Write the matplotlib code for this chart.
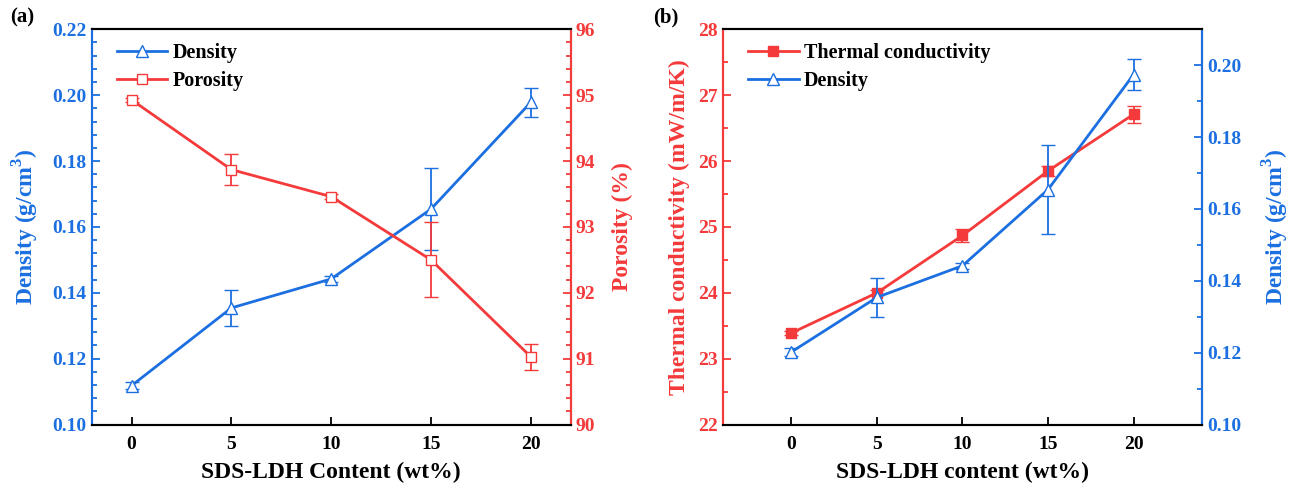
import matplotlib
matplotlib.use("Agg")
import matplotlib.pyplot as plt
from matplotlib.ticker import MultipleLocator, FormatStrFormatter

plt.rcParams['font.family'] = ['Liberation Serif', 'DejaVu Serif']
plt.rcParams['font.weight'] = 'bold'
plt.rcParams['mathtext.fontset'] = 'custom'
plt.rcParams['mathtext.rm'] = 'Liberation Serif:bold'
plt.rcParams['mathtext.bf'] = 'Liberation Serif:bold'

# SDS-LDH loading (wt%)
content = [0, 5, 10, 15, 20]

# Panel (a): density and porosity
density_a = [0.1118, 0.1354, 0.1442, 0.1654, 0.1978]
density_a_err = [0.0010, 0.0054, 0.0008, 0.0125, 0.0043]
porosity = [94.93, 93.87, 93.46, 92.50, 91.03]
porosity_err = [0.03, 0.24, 0.04, 0.57, 0.20]

# Panel (b): thermal conductivity and density
conductivity = [23.39, 24.00, 24.87, 25.85, 26.71]
conductivity_err = [0.03, 0.04, 0.10, 0.08, 0.13]
density_b = [0.1202, 0.1354, 0.1442, 0.1654, 0.1974]
density_b_err = [0.0010, 0.0054, 0.0008, 0.0125, 0.0042]

BLUE = '#1b6fe0'
RED = '#f43a3a'
LW = 2.0
TICK_FS = 14
LABEL_FS = 17
LEGEND_FS = 14.5


def style_axis(ax, which, color, major, minor):
    axis = ax.yaxis
    axis.set_major_locator(MultipleLocator(major))
    axis.set_minor_locator(MultipleLocator(minor))
    ax.tick_params(axis='y', which='both', direction='in', colors=color,
                   labelsize=TICK_FS, width=1.3)
    ax.tick_params(axis='y', which='major', length=6)
    ax.tick_params(axis='y', which='minor', length=3.5)
    ax.spines[which].set_color(color)


def style_x(ax):
    ax.set_xticks(content)
    ax.tick_params(axis='x', which='both', direction='in', labelsize=TICK_FS,
                   length=6, width=1.3, pad=8)
    ax.xaxis.set_minor_locator(plt.NullLocator())
    for s in ax.spines.values():
        s.set_linewidth(1.5)


def add_legend(ax, handles, labels):
    ax.legend(handles, labels, loc='upper left', frameon=False,
              fontsize=LEGEND_FS, handlelength=2.5, handletextpad=0.25,
              labelspacing=0.4, borderaxespad=0.0,
              bbox_to_anchor=(0.036, 0.985))


fig = plt.figure(figsize=(12.89, 4.91), dpi=100)
ax1 = fig.add_axes([0.0711, 0.1354, 0.3716, 0.8049])
ax2 = fig.add_axes([0.5609, 0.1354, 0.3716, 0.8049])

# ---- (a) ----
ax1r = ax1.twinx()
l1 = ax1.errorbar(content, density_a, yerr=density_a_err, color=BLUE, lw=LW,
                  marker='^', ms=8, mfc='white', mec=BLUE, mew=1.0,
                  capsize=5, elinewidth=1.3, capthick=1.3)
l2 = ax1r.errorbar(content, porosity, yerr=porosity_err, color=RED, lw=LW,
                   marker='s', ms=7, mfc='white', mec=RED, mew=1.0,
                   capsize=5, elinewidth=1.3, capthick=1.3)
ax1.set_xlim(-2, 22)
ax1.set_ylim(0.10, 0.22)
ax1r.set_ylim(90, 96)
style_x(ax1)
for s in ax1r.spines.values():
    s.set_linewidth(1.5)
style_axis(ax1, 'left', BLUE, 0.02, 0.004)
style_axis(ax1r, 'right', RED, 1, 0.2)
ax1r.spines['left'].set_color(BLUE)
ax1.yaxis.set_major_formatter(FormatStrFormatter('%.2f'))
ax1.set_ylabel('Density (g/cm$^3$)', color=BLUE, fontsize=LABEL_FS,
               fontweight='bold', labelpad=8)
ax1r.set_ylabel('Porosity (%)', color=RED, fontsize=LABEL_FS,
                fontweight='bold', labelpad=12)
ax1.set_xlabel('SDS-LDH Content (wt%)', fontsize=LABEL_FS, fontweight='bold',
               labelpad=7)
add_legend(ax1, [l1[0], l2[0]], ['Density', 'Porosity'])
fig.text(0.008, 0.965, '(a)', fontsize=15, fontweight='bold', va='center')

# ---- (b) ----
ax2r = ax2.twinx()
l3 = ax2.errorbar(content, conductivity, yerr=conductivity_err, color=RED,
                  lw=LW, marker='s', ms=7, mfc=RED, mec=RED, mew=1.0,
                  capsize=5, elinewidth=1.3, capthick=1.3)
l4 = ax2r.errorbar(content, density_b, yerr=density_b_err, color=BLUE, lw=LW,
                   marker='^', ms=8, mfc='white', mec=BLUE, mew=1.0,
                   capsize=5, elinewidth=1.3, capthick=1.3)
ax2.set_xlim(-4, 24)
ax2.set_ylim(22, 28)
ax2r.set_ylim(0.10, 0.21)
style_x(ax2)
for s in ax2r.spines.values():
    s.set_linewidth(1.5)
style_axis(ax2, 'left', RED, 1, 0.5)
style_axis(ax2r, 'right', BLUE, 0.02, 0.01)
ax2r.spines['left'].set_color(RED)
ax2r.yaxis.set_major_formatter(FormatStrFormatter('%.2f'))
ax2.set_ylabel('Thermal conductivity (mW/m/K)', color=RED, fontsize=LABEL_FS,
               fontweight='bold', labelpad=6)
ax2r.set_ylabel('Density (g/cm$^3$)', color=BLUE, fontsize=LABEL_FS,
                fontweight='bold', labelpad=14)
ax2.set_xlabel('SDS-LDH content (wt%)', fontsize=LABEL_FS, fontweight='bold',
               labelpad=7)
add_legend(ax2, [l3[0], l4[0]], ['Thermal conductivity', 'Density'])
fig.text(0.507, 0.965, '(b)', fontsize=15, fontweight='bold', va='center')

fig.savefig('out.png', dpi=100)
